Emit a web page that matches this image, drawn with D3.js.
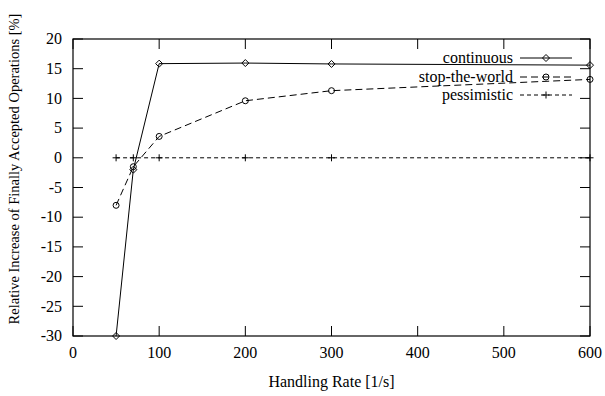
<!DOCTYPE html>
<html>
<head>
<meta charset="utf-8">
<script src="https://cdn.jsdelivr.net/npm/d3@7"></script>
</head>
<body style="margin:0">
<div id="chart"></div>
<script>
// data
var rates = [50, 70, 100, 200, 300, 600];
var continuous = [-30, -2, 15.85, 15.95, 15.8, 15.6];
var stopTheWorld = [-8, -1.5, 3.6, 9.6, 11.3, 13.2];
var pessimistic = [0, 0, 0, 0, 0, 0];
var xTicks = [0, 100, 200, 300, 400, 500, 600];
var yTicks = [-30, -25, -20, -15, -10, -5, 0, 5, 10, 15, 20];

var series = [
    {name: "continuous", values: continuous, dash: null, marker: "diamond"},
    {name: "stop-the-world", values: stopTheWorld, dash: "7,4", marker: "circle"},
    {name: "pessimistic", values: pessimistic, dash: "4,3", marker: "plus"}
];

var width = 605, height = 396;
var margin = {left: 73, right: 15, top: 39, bottom: 60};
var fontFamily = "'Liberation Serif', 'DejaVu Serif', serif";

var svg = d3.select("#chart")
    .append("svg")
    .attr("width", width)
    .attr("height", height);

// all text goes through this so the serif font is set on each element
function label(parent, tx, ty, str, anchor){
    return parent.append("text")
        .style("font-family", fontFamily)
        .style("font-size", "16px")
        .attr("x", tx)
        .attr("y", ty)
        .attr("text-anchor", anchor)
        .text(str);
}

var x = d3.scaleLinear()
    .domain([0, 600])
    .range([margin.left, width - margin.right]);

var y = d3.scaleLinear()
    .domain([-30, 20])
    .range([height - margin.bottom, margin.top]);

var tickLen = 10;

// ticks on all four sides, pointing in (gnuplot mirror style)
var ticks = svg.append("g").attr("stroke", "#000").attr("stroke-width", 1);
xTicks.forEach(function(t){
    ticks.append("line").attr("x1", x(t)).attr("x2", x(t))
        .attr("y1", y(-30)).attr("y2", y(-30) - tickLen);
    ticks.append("line").attr("x1", x(t)).attr("x2", x(t))
        .attr("y1", y(20)).attr("y2", y(20) + tickLen);
    label(svg, x(t), 358, t, "middle");
});
yTicks.forEach(function(t){
    ticks.append("line").attr("x1", x(0)).attr("x2", x(0) + tickLen)
        .attr("y1", y(t)).attr("y2", y(t));
    ticks.append("line").attr("x1", x(600)).attr("x2", x(600) - tickLen)
        .attr("y1", y(t)).attr("y2", y(t));
    label(svg, 62, y(t), t, "end").attr("dy", "0.33em");
});

// axis titles
label(svg, (x(0) + x(600)) / 2, 387, "Handling Rate [1/s]", "middle");
label(svg, 0, 0, "Relative Increase of Finally Accepted Operations [%]", "middle")
    .style("font-size", "14.5px")
    .attr("transform", "translate(19,169) rotate(-90)");

// markers
function drawMarker(g, kind, cx, cy){
    if (kind == "diamond"){
        g.append("path")
            .attr("d", "M" + cx + "," + (cy - 3.5) + "L" + (cx + 3.5) + "," + cy +
                "L" + cx + "," + (cy + 3.5) + "L" + (cx - 3.5) + "," + cy + "Z")
            .attr("fill", "none").attr("stroke", "#000");
    }
    else if (kind == "circle"){
        g.append("circle").attr("cx", cx).attr("cy", cy).attr("r", 3)
            .attr("fill", "none").attr("stroke", "#000");
    }
    else {
        g.append("path")
            .attr("d", "M" + (cx - 3.5) + "," + cy + "H" + (cx + 3.5) +
                "M" + cx + "," + (cy - 3.5) + "V" + (cy + 3.5))
            .attr("fill", "none").attr("stroke", "#000");
    }
}

var line = d3.line()
    .x(function(d){ return x(d[0]); })
    .y(function(d){ return y(d[1]); });

// legend positions
var legendTextX = 513, legendLineX1 = 520, legendLineX2 = 572;
var legendRows = [58, 77, 95];

series.forEach(function(s, i){
    var pts = rates.map(function(r, j){ return [r, s.values[j]]; });
    var g = svg.append("g");
    g.append("path")
        .datum(pts)
        .attr("d", line)
        .attr("fill", "none")
        .attr("stroke", "#000")
        .attr("stroke-width", 1)
        .attr("stroke-dasharray", s.dash);
    pts.forEach(function(p){ drawMarker(g, s.marker, x(p[0]), y(p[1])); });

    // legend entry
    label(svg, legendTextX, legendRows[i], s.name, "end").attr("dy", "0.33em");
    svg.append("line")
        .attr("x1", legendLineX1).attr("x2", legendLineX2)
        .attr("y1", legendRows[i]).attr("y2", legendRows[i])
        .attr("stroke", "#000")
        .attr("stroke-dasharray", s.dash);
    drawMarker(svg, s.marker, (legendLineX1 + legendLineX2) / 2, legendRows[i]);
});

// frame
svg.append("rect")
    .attr("x", x(0)).attr("y", y(20))
    .attr("width", x(600) - x(0))
    .attr("height", y(-30) - y(20))
    .attr("fill", "none")
    .attr("stroke", "#000")
    .attr("stroke-width", 1.2);
</script>
</body>
</html>
